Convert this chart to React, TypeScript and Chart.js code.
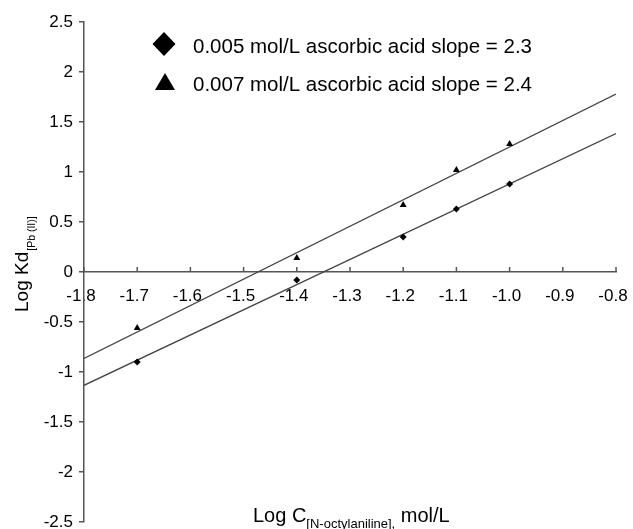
import React, { useEffect, useRef } from "react";
import { Chart, registerables } from "chart.js";

Chart.register(...registerables);

// ---- data ----
const logC = [-1.7, -1.4, -1.2, -1.1, -1.0];
const logKd005 = [-0.9, -0.08, 0.35, 0.63, 0.88];
const logKd007 = [-0.56, 0.14, 0.67, 1.02, 1.28];
const seriesLabels = [
  "0.005 mol/L ascorbic acid slope = 2.3",
  "0.007 mol/L ascorbic acid slope = 2.4",
];
const xTicks = [-1.8, -1.7, -1.6, -1.5, -1.4, -1.3, -1.2, -1.1, -1.0, -0.9, -0.8];
const yTicks = [-2.5, -2, -1.5, -1, -0.5, 0, 0.5, 1, 1.5, 2, 2.5];
const trendRange = [-1.8, -0.8];
const xTitleMain = "Log C";
const xTitleSub = "[N-octylaniline],";
const xTitleTail = " mol/L";
const yTitleMain = "Log Kd";
const yTitleSub = "[Pb (II)]";

const FONT = "'Liberation Sans', Arial, sans-serif";
const AXIS = "#555";

function fitLine(xs: number[], ys: number[]) {
  const n = xs.length;
  const mx = xs.reduce((a, b) => a + b, 0) / n;
  const my = ys.reduce((a, b) => a + b, 0) / n;
  let sxy = 0, sxx = 0;
  for (let i = 0; i < n; i++) {
    sxy += (xs[i] - mx) * (ys[i] - my);
    sxx += (xs[i] - mx) * (xs[i] - mx);
  }
  const m = sxy / sxx;
  const b = my - m * mx;
  return trendRange.map((x) => ({ x, y: m * x + b }));
}

const decorPlugin = {
  id: "decor",
  afterDraw(chart: any) {
    const { ctx, chartArea, scales } = chart;
    const xs = scales.x;
    const ys = scales.y;
    const y0 = ys.getPixelForValue(0);
    ctx.save();
    // x tick marks above axis
    ctx.strokeStyle = AXIS;
    ctx.lineWidth = 1.5;
    xTicks.forEach((v) => {
      const px = xs.getPixelForValue(v);
      ctx.beginPath();
      ctx.moveTo(px, y0);
      ctx.lineTo(px, y0 - 5);
      ctx.stroke();
    });

    // legend
    const lx = chartArea.left + 80;
    ctx.fillStyle = "#000";
    const d1y = chartArea.top + 22;
    ctx.beginPath();
    ctx.moveTo(lx, d1y - 12);
    ctx.lineTo(lx + 11.5, d1y);
    ctx.lineTo(lx, d1y + 12);
    ctx.lineTo(lx - 11.5, d1y);
    ctx.closePath();
    ctx.fill();
    const t1y = chartArea.top + 60;
    ctx.beginPath();
    ctx.moveTo(lx + 1, t1y - 9);
    ctx.lineTo(lx + 11, t1y + 8);
    ctx.lineTo(lx - 9, t1y + 8);
    ctx.closePath();
    ctx.fill();
    ctx.font = `20.5px ${FONT}`;
    ctx.textBaseline = "alphabetic";
    ctx.textAlign = "left";
    ctx.fillText(seriesLabels[0], lx + 29, chartArea.top + 31);
    ctx.fillText(seriesLabels[1], lx + 29, chartArea.top + 68.5);

    // x title
    let tx = chartArea.left + 169;
    const tb = 521.5;
    ctx.font = `20px ${FONT}`;
    ctx.fillText(xTitleMain, tx, tb);
    tx += ctx.measureText(xTitleMain).width;
    ctx.font = `13px ${FONT}`;
    ctx.fillText(xTitleSub, tx, tb + 6);
    tx += ctx.measureText(xTitleSub).width;
    ctx.font = `20px ${FONT}`;
    ctx.fillText(xTitleTail, tx, tb);

    // y title (rotated)
    ctx.translate(28, 312);
    ctx.rotate(-Math.PI / 2);
    ctx.font = `19px ${FONT}`;
    ctx.fillText(yTitleMain, 0, 0);
    const w = ctx.measureText(yTitleMain).width;
    ctx.font = `10.5px ${FONT}`;
    ctx.fillText(yTitleSub, w + 1, 7);
    ctx.restore();
  },
};

export default function App() {
  const ref = useRef<HTMLCanvasElement | null>(null);
  useEffect(() => {
    if (!ref.current) return;
    const chart = new Chart(ref.current, {
      type: "scatter",
      data: {
        datasets: [
          {
            label: seriesLabels[0],
            data: logC.map((x, i) => ({ x, y: logKd005[i] })),
            pointStyle: "rectRot",
            pointRadius: 3.5,
            backgroundColor: "#000",
            borderColor: "#000",
            borderWidth: 0,
          },
          {
            label: seriesLabels[1],
            data: logC.map((x, i) => ({ x, y: logKd007[i] })),
            pointStyle: "triangle",
            pointRadius: 4,
            backgroundColor: "#000",
            borderColor: "#000",
            borderWidth: 0,
          },
          {
            label: "trend005",
            data: fitLine(logC, logKd005),
            showLine: true,
            borderColor: "#444",
            borderWidth: 1.3,
            pointRadius: 0,
            fill: false,
          },
          {
            label: "trend007",
            data: fitLine(logC, logKd007),
            showLine: true,
            borderColor: "#444",
            borderWidth: 1.3,
            pointRadius: 0,
            fill: false,
          },
        ],
      },
      options: {
        animation: false,
        responsive: true,
        maintainAspectRatio: false,
        layout: { padding: { top: 22, bottom: 28, left: 0, right: 17 } },
        plugins: { legend: { display: false }, tooltip: { enabled: false } },
        scales: {
          x: {
            type: "linear",
            min: -1.8,
            max: -0.8,
            position: { y: 0 } as any,
            afterBuildTicks: (s: any) => {
              s.ticks = xTicks.map((v) => ({ value: v }));
            },
            afterFit: (s: any) => {
              s.paddingLeft = 0;
              s.paddingRight = 17;
            },
            grid: { display: false, drawTicks: false, tickLength: 0 },
            border: { display: true, color: AXIS, width: 1.5 },
            ticks: {
              color: "#000",
              font: { size: 17, family: FONT },
              padding: 14,
              labelOffset: -3,
              maxRotation: 0,
              autoSkip: false,
              callback: (v: any) => Number(v).toFixed(1),
            },
          },
          y: {
            type: "linear",
            position: "left",
            min: -2.5,
            max: 2.5,
            afterBuildTicks: (s: any) => {
              s.ticks = yTicks.map((v) => ({ value: v }));
            },
            afterFit: (s: any) => {
              s.width = 84;
            },
            grid: {
              display: true,
              drawOnChartArea: false,
              drawTicks: true,
              tickLength: 5,
              color: AXIS,
              lineWidth: 1.5,
            },
            border: { display: true, color: AXIS, width: 1.5 },
            ticks: {
              color: "#000",
              font: { size: 17, family: FONT },
              padding: 6,
              autoSkip: false,
              callback: (v: any) => String(Number(v)),
            },
          },
        },
      },
      plugins: [decorPlugin],
    });
    return () => chart.destroy();
  }, []);
  return (
    <div
      style={{
        position: "fixed",
        left: 0,
        top: 0,
        width: 633,
        height: 529,
        overflow: "hidden",
        background: "#fff",
      }}
    >
      <div style={{ position: "relative", width: 633, height: 550 }}>
        <canvas ref={ref} />
      </div>
    </div>
  );
}
